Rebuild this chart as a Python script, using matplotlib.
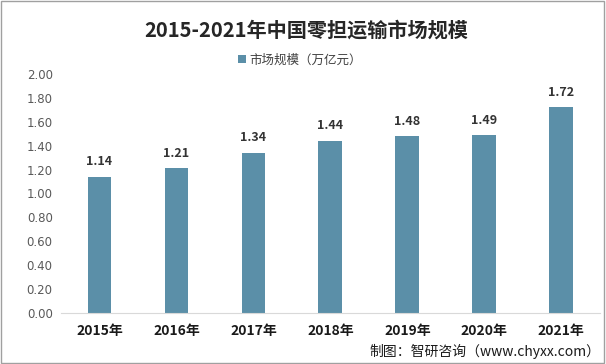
import matplotlib
matplotlib.use("Agg")
import matplotlib.pyplot as plt
from matplotlib.patches import Rectangle

plt.rcParams['font.family'] = ['Noto Sans CJK SC', 'DejaVu Sans']

years = ["2015年", "2016年", "2017年", "2018年", "2019年", "2020年", "2021年"]
values = [1.14, 1.21, 1.34, 1.44, 1.48, 1.49, 1.72]
yticks = [0.0, 0.2, 0.4, 0.6, 0.8, 1.0, 1.2, 1.4, 1.6, 1.8, 2.0]

bar_color = "#5B8FA8"

fig = plt.figure(figsize=(6.06, 3.64), dpi=100)
fig.patch.set_facecolor("white")
fig.add_artist(Rectangle((0.002, 0.003), 0.995, 0.994, transform=fig.transFigure,
                         fill=False, edgecolor="#A0A0A0", linewidth=1.0))

ax = fig.add_axes([0.1007, 0.140, 0.889, 0.657])
x = list(range(len(years)))
bars = ax.bar(x, values, width=0.31, color=bar_color, label="市场规模（万亿元）")
ax.set_xlim(-0.5, len(years) - 0.5)
ax.set_ylim(0, 2.0)
ax.set_yticks(yticks)
ax.set_yticklabels([f"{v:.2f}" for v in yticks], color="#595959", fontsize=8.5,
                   family=['DejaVu Sans'])
ax.set_xticks(x)
ax.set_xticklabels(years, fontsize=10, fontweight="bold", color="#1a1a1a")
ax.tick_params(axis="both", length=0)
ax.tick_params(axis="x", pad=8)
ax.tick_params(axis="y", pad=6)
for s in ["top", "right", "left"]:
    ax.spines[s].set_visible(False)
ax.spines["bottom"].set_color("#D9D9D9")

for xi, v in zip(x, values):
    ax.text(xi, v + 0.07, f"{v:.2f}", ha="center", va="bottom", fontsize=9,
            fontweight="bold", color="#333333")

fig.text(0.505, 0.918, "2015-2021年中国零担运输市场规模", ha="center", va="center",
         fontsize=14.5, fontweight="bold", color="#262626")

leg = ax.legend(loc="center", bbox_to_anchor=(0.495, 0.835), bbox_transform=fig.transFigure,
                frameon=False, fontsize=9, handlelength=0.6, handleheight=0.6,
                handletextpad=0.3)
for t in leg.get_texts():
    t.set_color("#404040")

fig.text(0.99, 0.035, "制图：智研咨询（www.chyxx.com）", ha="right", va="center",
         fontsize=10, color="#1a1a1a")

fig.savefig("out.png", dpi=100)
